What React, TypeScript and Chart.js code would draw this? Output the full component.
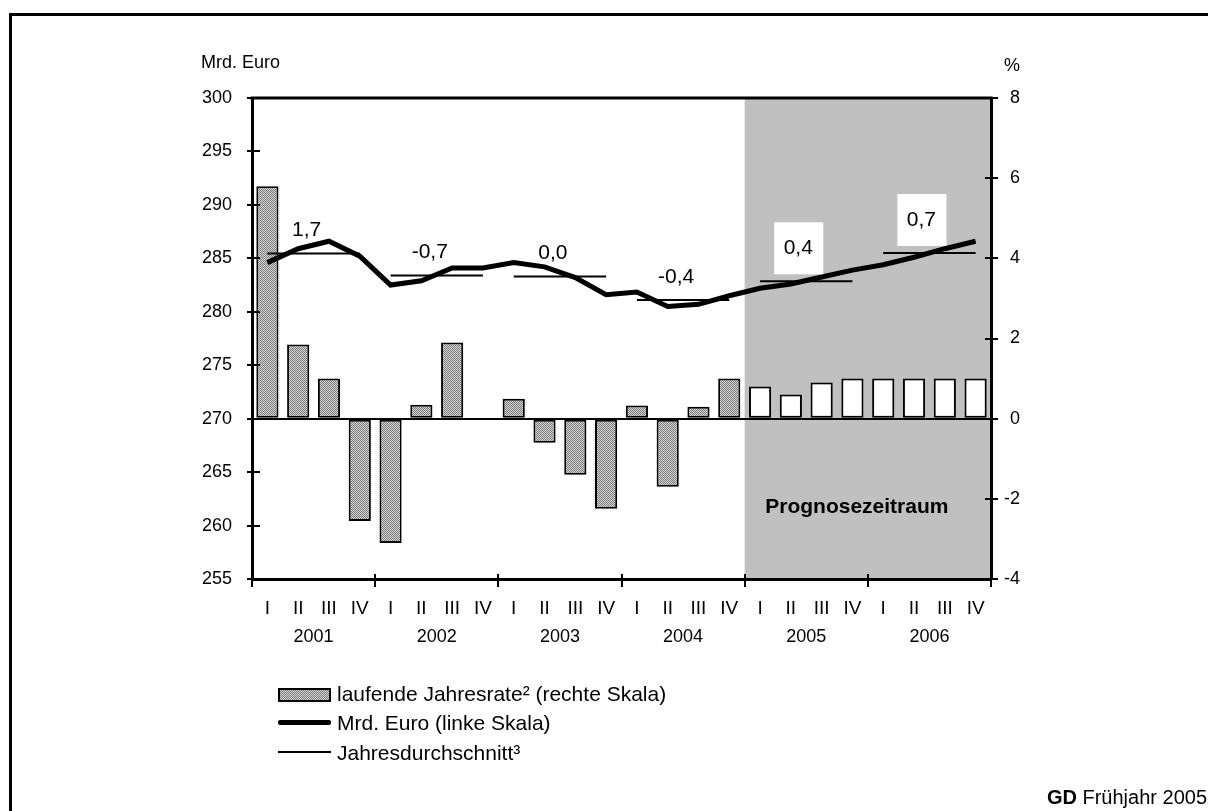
import React, { useEffect, useRef } from 'react';
import { Chart, registerables } from 'chart.js';

Chart.register(...registerables);

const quarters = ['I', 'II', 'III', 'IV'];
const years = ['2001', '2002', '2003', '2004', '2005', '2006'];
const quarterLabels = years.flatMap(() => quarters);

// laufende Jahresrate (%), right scale
const rate = [
  5.8, 1.85, 1.0, -2.55,
  -3.1, 0.35, 1.9, 0,
  0.5, -0.6, -1.4, -2.25,
  0.33, -1.7, 0.3, 1.0,
  0.8, 0.6, 0.9, 1.0,
  1.0, 1.0, 1.0, 1.0,
];

// Mrd. Euro, left scale
const mrdEuro = [
  284.6, 285.9, 286.6, 285.2,
  282.5, 282.9, 284.1, 284.1,
  284.6, 284.2, 283.2, 281.6,
  281.85, 280.5, 280.7, 281.5,
  282.2, 282.6, 283.25, 283.9,
  284.4, 285.1, 285.9, 286.6,
];

// Jahresdurchschnitt (Mrd. Euro)
const annualAvg = [285.45, 283.4, 283.3, 281.1, 282.85, 285.5];
// annual change labels
const annualRate = ['1,7', '-0,7', '0,0', '-0,4', '0,4', '0,7'];
const forecastYearIndex = 4; // 2005 onwards

const leftTicks = { min: 255, max: 300, step: 5 };
const rightTicks = { min: -4, max: 8, step: 2 };

const FONT = '"Liberation Sans", Arial, Helvetica, sans-serif';

export default function App() {
  const ref = useRef<HTMLCanvasElement>(null);

  useEffect(() => {
    const canvas = ref.current!;
    const ctx = canvas.getContext('2d')!;
    const pc = document.createElement('canvas');
    pc.width = 2;
    pc.height = 2;
    const pctx = pc.getContext('2d')!;
    pctx.fillStyle = '#d6d6d6';
    pctx.fillRect(0, 0, 2, 2);
    pctx.fillStyle = '#7a7a7a';
    pctx.fillRect(0, 0, 1, 1);
    pctx.fillRect(1, 1, 1, 1);
    const pattern = ctx.createPattern(pc, 'repeat')!;

    const forecastStart = forecastYearIndex * 4;
    const barColors = rate.map((_, i) => (i >= forecastStart ? '#ffffff' : pattern));
    const avgQuarterly = quarterLabels.map((_, i) => annualAvg[Math.floor(i / 4)]);

    Chart.defaults.font.family = FONT;
    Chart.defaults.font.size = 18;
    Chart.defaults.color = '#000';

    const shadePlugin = {
      id: 'shade',
      beforeDraw(chart: any) {
        const { ctx, chartArea } = chart;
        const x = chart.scales.x;
        const x0 = (x.getPixelForValue(forecastStart - 1) + x.getPixelForValue(forecastStart)) / 2;
        ctx.save();
        ctx.fillStyle = '#c0c0c0';
        ctx.fillRect(x0, chartArea.top, chartArea.right - x0, chartArea.bottom - chartArea.top);
        ctx.restore();
      },
    };

    const labelPlugin = {
      id: 'labels',
      afterDatasetsDraw(chart: any) {
        const { ctx, chartArea } = chart;
        const x = chart.scales.x;
        const y = chart.scales.y;
        const y2 = chart.scales.y2;
        ctx.save();
        ctx.font = `21px ${FONT}`;
        ctx.textAlign = 'center';
        ctx.textBaseline = 'middle';
        annualRate.forEach((txt, k) => {
          const forecast = k >= forecastYearIndex;
          const cx = (x.getPixelForValue(4 * k + 1) + x.getPixelForValue(4 * k + 2)) / 2 - (forecast ? 8 : 7);
          const ay = y.getPixelForValue(annualAvg[k]);
          if (forecast) {
            const cy = ay - 33;
            ctx.fillStyle = '#fff';
            ctx.fillRect(cx - 24, cy - 26, 49, 52);
            ctx.fillStyle = '#000';
            ctx.fillText(txt, cx, cy);
          } else {
            ctx.fillStyle = '#000';
            ctx.fillText(txt, cx, ay - 23);
          }
        });
        const x0 = (x.getPixelForValue(forecastStart - 1) + x.getPixelForValue(forecastStart)) / 2;
        ctx.font = `bold 21px ${FONT}`;
        ctx.fillText('Prognosezeitraum', (x0 + chartArea.right) / 2 - 11, y2.getPixelForValue(-2.2));
        ctx.restore();
      },
    };

    const tickPlugin = {
      id: 'crossTicks',
      afterDraw(chart: any) {
        const { ctx, chartArea } = chart;
        const { x, y, y2 } = chart.scales;
        ctx.save();
        ctx.strokeStyle = '#000';
        ctx.lineWidth = 3;
        ctx.beginPath();
        ctx.moveTo(chartArea.left - 1.5, chartArea.top);
        ctx.lineTo(chartArea.right + 1.5, chartArea.top);
        ctx.stroke();
        ctx.lineWidth = 2;
        const seg = (a: number, b: number, c: number, d: number) => {
          ctx.beginPath();
          ctx.moveTo(a, b);
          ctx.lineTo(c, d);
          ctx.stroke();
        };
        y.ticks.forEach((t: any) => {
          const py = Math.round(y.getPixelForValue(t.value));
          seg(chartArea.left - 5, py, chartArea.left + 8, py);
        });
        y2.ticks.forEach((t: any) => {
          const py = Math.round(y2.getPixelForValue(t.value));
          seg(chartArea.right - 6, py, chartArea.right + 7, py);
        });
        for (let k = 0; k <= years.length; k++) {
          let px: number;
          if (k === 0) px = chartArea.left;
          else if (k === years.length) px = chartArea.right;
          else px = (x.getPixelForValue(4 * k - 1) + x.getPixelForValue(4 * k)) / 2;
          px = Math.round(px);
          seg(px, chartArea.bottom - 5, px, chartArea.bottom + 8);
        }
        ctx.restore();
      },
    };

    const chart = new Chart(canvas, {
      type: 'bar',
      data: {
        labels: quarterLabels,
        datasets: [
          {
            type: 'line',
            label: 'Mrd. Euro (linke Skala)',
            data: mrdEuro,
            yAxisID: 'y',
            borderColor: '#000',
            borderWidth: 5,
            pointRadius: 0,
            tension: 0,
            order: 0,
          } as any,
          {
            type: 'line',
            label: 'Jahresdurchschnitt³',
            data: avgQuarterly,
            yAxisID: 'y',
            borderColor: '#000',
            borderWidth: 2,
            pointRadius: 0,
            tension: 0,
            segment: {
              borderColor: (c: any) => (c.p0DataIndex % 4 === 3 ? 'rgba(0,0,0,0)' : '#000'),
            },
            order: 1,
          } as any,
          {
            type: 'bar',
            label: 'laufende Jahresrate² (rechte Skala)',
            data: rate,
            yAxisID: 'y2',
            backgroundColor: barColors,
            borderColor: '#000',
            borderWidth: 2,
            borderSkipped: false,
            barPercentage: 0.72,
            categoryPercentage: 1,
            order: 2,
          } as any,
        ],
      },
      options: {
        responsive: false,
        animation: false,
        devicePixelRatio: 1,
        layout: { padding: { left: 192, right: 188, top: 98, bottom: 152 } },
        plugins: { legend: { display: false }, tooltip: { enabled: false } },
        scales: {
          x: {
            type: 'category',
            position: 'bottom',
            offset: true,
            grid: { display: false, drawTicks: false },
            border: { display: true, color: '#000', width: 3 },
            ticks: { padding: 18, maxRotation: 0, autoSkip: false, color: '#000', font: { size: 19 } },
            afterFit: (s: any) => { s.height = 40; },
          },
          x2: {
            type: 'category',
            position: 'bottom',
            labels: years,
            offset: true,
            grid: { display: false, drawTicks: false },
            border: { display: false },
            ticks: { padding: 7, maxRotation: 0, autoSkip: false, color: '#000', font: { size: 18 } },
            afterFit: (s: any) => { s.height = 40; },
          },
          y: {
            position: 'left',
            min: leftTicks.min,
            max: leftTicks.max,
            grid: { display: false, drawTicks: false },
            border: { display: true, color: '#000', width: 3 },
            ticks: { stepSize: leftTicks.step, padding: 20, color: '#000', font: { size: 18 } },
            afterFit: (s: any) => { s.width = 60; },
          },
          y2: {
            position: 'right',
            min: rightTicks.min,
            max: rightTicks.max,
            grid: {
              display: true,
              drawOnChartArea: true,
              drawTicks: false,
              lineWidth: 2,
              color: (c: any) => (c.tick && c.tick.value === 0 ? '#000' : 'rgba(0,0,0,0)'),
            },
            border: { display: true, color: '#000', width: 3 },
            ticks: { stepSize: rightTicks.step, padding: 12, crossAlign: 'far', color: '#000', font: { size: 18 } },
            afterFit: (s: any) => { s.width = 29; },
          },
        },
      } as any,
      plugins: [shadePlugin, labelPlugin, tickPlugin],
    });
    return () => chart.destroy();
  }, []);

  const txt: React.CSSProperties = {
    position: 'absolute',
    fontSize: 18,
    lineHeight: '20px',
    whiteSpace: 'nowrap',
    color: '#000',
  };
  const leg: React.CSSProperties = { ...txt, fontSize: 21, lineHeight: '24px' };

  return (
    <div
      style={{
        position: 'absolute',
        left: 0,
        top: 0,
        width: 1208,
        height: 811,
        overflow: 'hidden',
        background: '#fff',
        fontFamily: FONT,
      }}
    >
      <div
        style={{
          position: 'absolute',
          left: 9,
          top: 13,
          width: 1300,
          height: 900,
          borderTop: '3px solid #000',
          borderLeft: '3px solid #000',
        }}
      />
      <canvas ref={ref} width={1208} height={811} style={{ position: 'absolute', left: 0, top: 0 }} />
      <div style={{ ...txt, left: 201, top: 52 }}>Mrd. Euro</div>
      <div style={{ ...txt, left: 1004, top: 55 }}>%</div>

      <div
        style={{
          position: 'absolute',
          left: 278,
          top: 688,
          width: 49,
          height: 10,
          border: '2px solid #000',
          backgroundColor: '#a8a8a8',
          backgroundImage: 'repeating-conic-gradient(#7a7a7a 0% 25%, #d6d6d6 0% 50%)',
          backgroundSize: '2px 2px',
        }}
      />
      <div style={{ ...leg, left: 337, top: 682 }}>laufende Jahresrate² (rechte Skala)</div>
      <div style={{ position: 'absolute', left: 278, top: 720, width: 53, height: 5, background: '#000', borderRadius: 2 }} />
      <div style={{ ...leg, left: 337, top: 711 }}>Mrd. Euro (linke Skala)</div>
      <div style={{ position: 'absolute', left: 278, top: 751, width: 53, height: 2, background: '#000' }} />
      <div style={{ ...leg, left: 337, top: 741 }}>Jahresdurchschnitt³</div>

      <div style={{ ...txt, fontSize: 20, lineHeight: '22px', right: 1, top: 786 }}>
        <b>GD</b> Frühjahr 2005
      </div>
    </div>
  );
}
